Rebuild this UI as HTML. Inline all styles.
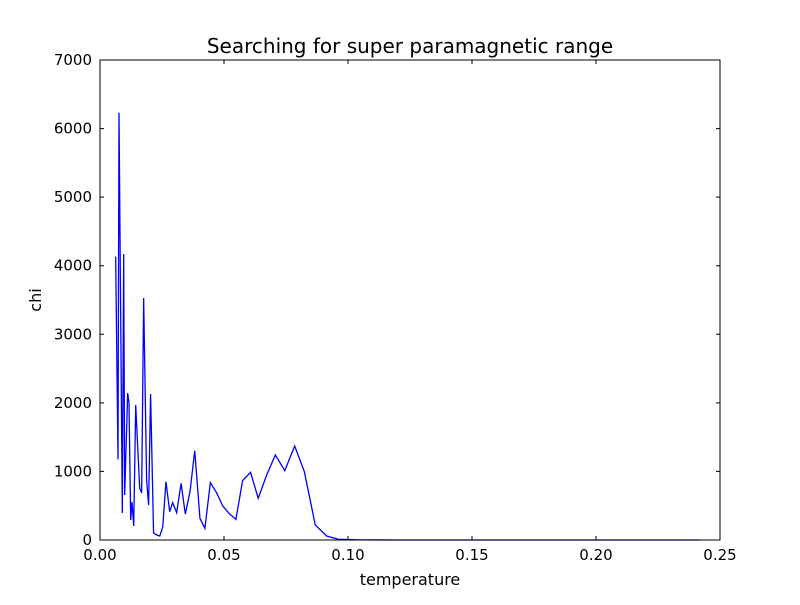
<!DOCTYPE html>
<html><head><meta charset="utf-8"><style>
body{margin:0;background:#fff;}
svg text{font-family:"DejaVu Sans","Liberation Sans",sans-serif;fill:#000;}
</style></head><body>
<svg id="chart" width="800" height="600" xmlns="http://www.w3.org/2000/svg">
<rect width="800" height="600" fill="#fff"/>
<text x="410" y="53" font-size="20" text-anchor="middle">Searching for super paramagnetic range</text>
<text x="410" y="585" font-size="16" text-anchor="middle">temperature</text>
<text transform="translate(41,300) rotate(-90)" font-size="16" text-anchor="middle">chi</text>
<g id="ticks"></g>
<path id="line" fill="none" stroke="#0000ff" stroke-width="1.3"/>
<rect x="100" y="60" width="620" height="480" fill="none" stroke="#000" stroke-width="1"/>
</svg>
<script>
const temps=[.00632,.00726,.00766,.0090,.00955,.00995,.01116,.01169,.01237,.0129,.0136,.0144,.0160,.0168,.0176,.0188,.0196,.0204,.0216,.0229,.0241,.0253,.0266,.0281,.0293,.0309,.0327,.0344,.0363,.0382,.0403,.0423,.0445,.0470,.0495,.0520,.0548,.0575,.0607,.0638,.0672,.0707,.0745,.0785,.0824,.0868,.0914,.0961,.105,.12,.15,.18,.21,.242];
const chi=[4132,1177,6231,394,4171,656,2144,2000,292,554,204,1969,758,685,3529,875,510,2129,102,73,58,190,851,413,544,398,826,379,705,1303,316,170,836,690,496,389,301,865,987,608,948,1240,1011,1371,996,219,58,10,2,0,0,0,0,0];
const xTicks=[0,0.05,0.10,0.15,0.20,0.25];
const xTickLabels=["0.00","0.05","0.10","0.15","0.20","0.25"];
const yTicks=[0,1000,2000,3000,4000,5000,6000,7000];
const X0=100,X1=720,Y0=540,Y1=60;
function xs(v){return X0+(v-0)/(0.25)*(X1-X0);}
function ys(v){return Y0-(v/7000)*(Y0-Y1);}
const NS="http://www.w3.org/2000/svg";
const g=document.getElementById('ticks');
xTicks.forEach((t,i)=>{const x=xs(t);
 const a=document.createElementNS(NS,'path');a.setAttribute('d',`M${x},540v-4M${x},60v4`);a.setAttribute('stroke','#000');
 
 g.appendChild(a);
 const tx=document.createElementNS(NS,'text');tx.setAttribute('x',x);tx.setAttribute('y',560);tx.setAttribute('font-size','15');tx.setAttribute('text-anchor','middle');tx.textContent=xTickLabels[i];
 
 g.appendChild(tx);});
yTicks.forEach(t=>{const y=ys(t);
 const a=document.createElementNS(NS,'path');a.setAttribute('d',`M100,${y}h4M720,${y}h-4`);a.setAttribute('stroke','#000');
 
 g.appendChild(a);
 const tx=document.createElementNS(NS,'text');tx.setAttribute('x',92);tx.setAttribute('y',y+5);tx.setAttribute('font-size','15');tx.setAttribute('text-anchor','end');tx.textContent=String(t);
 
 g.appendChild(tx);});
document.getElementById('line').setAttribute('d',temps.map((t,i)=>(i?'L':'M')+xs(t).toFixed(2)+','+ys(chi[i]).toFixed(2)).join(''));
</script>
</body></html>
